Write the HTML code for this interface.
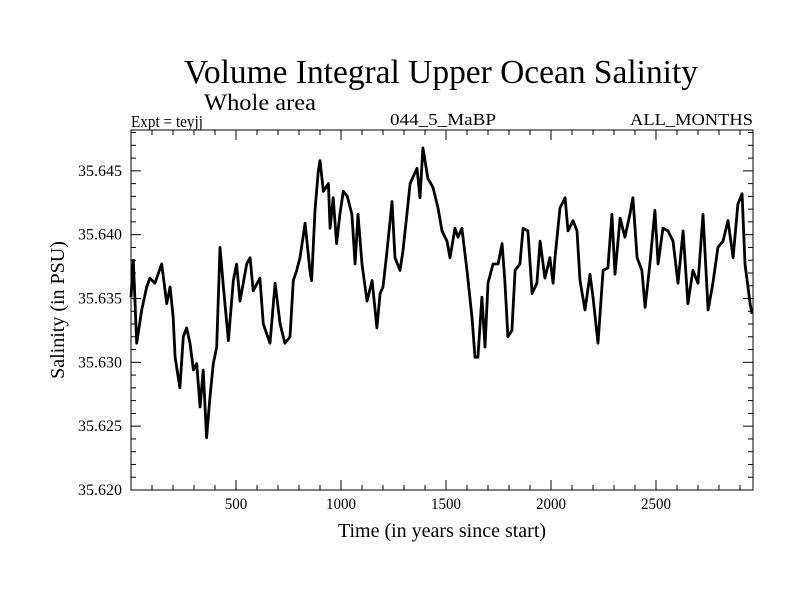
<!DOCTYPE html>
<html><head><meta charset="utf-8"><style>
html,body{margin:0;padding:0;background:#fff;}
svg{display:block;font-family:"Liberation Serif",serif;}
</style></head><body>
<svg id="chart" width="800" height="600" viewBox="0 0 800 600">
<rect width="800" height="600" fill="#fff"/>
<text x="184" y="83" font-size="34" textLength="514" lengthAdjust="spacingAndGlyphs">Volume Integral Upper Ocean Salinity</text>
<text x="204" y="110" font-size="23" textLength="112" lengthAdjust="spacingAndGlyphs">Whole area</text>
<text x="131" y="127" font-size="17" textLength="72" lengthAdjust="spacingAndGlyphs">Expt = teyjj</text>
<text x="390" y="125" font-size="17" textLength="106" lengthAdjust="spacingAndGlyphs">044_5_MaBP</text>
<text x="630" y="125" font-size="17" textLength="123" lengthAdjust="spacingAndGlyphs">ALL_MONTHS</text>
<text x="442" y="537" font-size="20" text-anchor="middle">Time (in years since start)</text>
<text transform="translate(64,310) rotate(-90)" font-size="20" text-anchor="middle">Salinity (in PSU)</text>
<g id="ticks"></g>
<path id="series" fill="none" stroke="#000" stroke-width="2.8" stroke-linejoin="round"/>
<rect x="131" y="130" width="622" height="360" fill="none" stroke="#000" stroke-width="1"/>
</svg>
<script>
const years = [0,11,27,51,75,90,114,146,170,186,201,210,233,249,265,281,297,313,329,344,360,376,392,408,424,440,464,487,503,519,551,567,582,614,630,662,686,710,733,757,773,789,805,829,852,860,876,892,900,916,940,948,963,979,995,1011,1030,1052,1067,1081,1100,1124,1148,1171,1186,1200,1219,1243,1257,1281,1295,1314,1329,1362,1376,1390,1414,1438,1462,1481,1505,1519,1543,1557,1576,1600,1624,1638,1652,1671,1686,1700,1724,1748,1767,1781,1795,1814,1829,1852,1867,1890,1910,1933,1948,1971,1995,2010,2019,2043,2067,2081,2105,2124,2138,2162,2186,2200,2224,2248,2271,2290,2305,2329,2352,2376,2390,2410,2433,2448,2471,2495,2510,2533,2557,2581,2605,2629,2652,2676,2700,2724,2748,2771,2795,2819,2843,2867,2890,2910,2924,2948,2957];
const salinity = [35.6351,35.6380,35.6315,35.6341,35.6359,35.6366,35.6362,35.6377,35.6346,35.6359,35.6335,35.6304,35.6280,35.6320,35.6327,35.6315,35.6294,35.6299,35.6265,35.6294,35.6241,35.6273,35.6299,35.6312,35.6390,35.6359,35.6317,35.6364,35.6377,35.6348,35.6377,35.6382,35.6356,35.6366,35.6330,35.6315,35.6362,35.6330,35.6315,35.6320,35.6364,35.6372,35.6382,35.6409,35.6372,35.6364,35.6419,35.6450,35.6458,35.6434,35.6440,35.6405,35.6429,35.6393,35.6416,35.6434,35.6430,35.6416,35.6377,35.6416,35.6377,35.6348,35.6364,35.6327,35.6354,35.6359,35.6387,35.6426,35.6382,35.6372,35.6387,35.6416,35.6440,35.6452,35.6429,35.6468,35.6444,35.6437,35.6421,35.6403,35.6395,35.6382,35.6405,35.6398,35.6405,35.6372,35.6335,35.6304,35.6304,35.6351,35.6312,35.6362,35.6377,35.6377,35.6393,35.6362,35.6320,35.6325,35.6372,35.6377,35.6405,35.6403,35.6354,35.6362,35.6395,35.6366,35.6382,35.6362,35.6382,35.6421,35.6429,35.6403,35.6411,35.6403,35.6364,35.6341,35.6369,35.6351,35.6315,35.6372,35.6374,35.6416,35.6369,35.6413,35.6398,35.6416,35.6429,35.6382,35.6372,35.6343,35.6377,35.6419,35.6377,35.6405,35.6403,35.6395,35.6362,35.6403,35.6346,35.6372,35.6362,35.6416,35.6341,35.6362,35.6390,35.6395,35.6411,35.6382,35.6424,35.6432,35.6377,35.6346,35.6338];
const xTickLabels = [500,1000,1500,2000,2500];
const yTickLabels = ["35.620","35.625","35.630","35.635","35.640","35.645"];

const X0=131,X1=753,Y0=490,Y1=130;
const xMin=0,xMax=2962,yMin=35.620,yMax=35.6482;
function xs(v){return X0+(v-xMin)/(xMax-xMin)*(X1-X0);}
function ys(v){return Y0-(v-yMin)/(yMax-yMin)*(Y0-Y1);}
const NS="http://www.w3.org/2000/svg";
let d="";
for(let i=0;i<years.length;i++){d+=(i?"L":"M")+xs(years[i]).toFixed(1)+","+ys(salinity[i]).toFixed(1);}
document.getElementById("series").setAttribute("d",d);
const g=document.getElementById("ticks");
function line(x1,y1,x2,y2,name){const l=document.createElementNS(NS,"line");l.setAttribute("x1",x1);l.setAttribute("y1",y1);l.setAttribute("x2",x2);l.setAttribute("y2",y2);l.setAttribute("stroke","#000");l.setAttribute("stroke-width","1");


g.appendChild(l);}
function text(x,y,s,anchor,name,len){const t=document.createElementNS(NS,"text");t.setAttribute("x",x);t.setAttribute("y",y);t.setAttribute("font-size","16");t.setAttribute("text-anchor",anchor);t.setAttribute("textLength",len);t.setAttribute("lengthAdjust","spacingAndGlyphs");t.textContent=s;


g.appendChild(t);}
for(let v=100;v<xMax;v+=100){const x=xs(v);const major=v%500===0;const L=major?10:5;line(x,Y0,x,Y0-L,"x-tick");line(x,Y1,x,Y1+L,"x-tick-top");}
xTickLabels.forEach(v=>text(xs(v),509,String(v),"middle","x-tick-label",String(v).length*7.5));
for(let k=0;k*0.001+yMin<=yMax+1e-9;k++){const v=yMin+k*0.001;const y=ys(v);const major=k%5===0;const L=major?10:5;line(X0,y,X0+L,y,"y-tick");line(X1,y,X1-L,y,"y-tick-right");}
yTickLabels.forEach(s=>text(122,ys(parseFloat(s))+5,s,"end","y-tick-label",44));
</script>
</body></html>
